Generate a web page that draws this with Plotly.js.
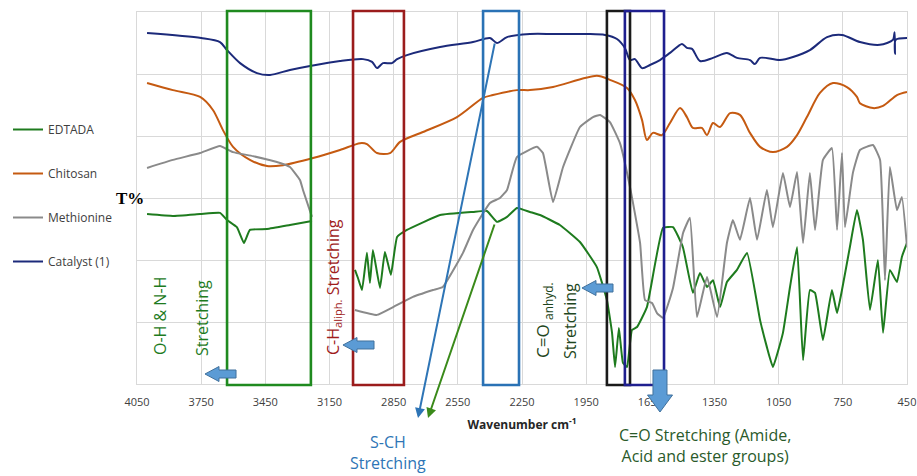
<!DOCTYPE html>
<html><head><meta charset="utf-8">
<script src="https://cdn.plot.ly/plotly-3.0.1.min.js"></script>
<style>body{margin:0;background:#fff}#chart{width:917px;height:476px}</style>
</head><body><div id="chart"></div>
<script>
// ---- data ----
const xTicks = [4050,3750,3450,3150,2850,2550,2250,1950,1650,1350,1050,750,450];
const seriesNames = ['EDTADA','Chitosan','Methionine','Catalyst (1)'];

const edtadaWn = [4003,3882,3755,3662,3629,3583,3550,3522,3442,3335,
  3232,3150,3031,3017,2998,2975,2961,2947,2914,2891,
  2863,2834,2788,2633,2479,2414,2367,2320,2274,2213,
  2166,2073,1979,1900,1853,1829,1815,1797,1778,1759,
  1736,1712,1666,1591,1544,1498,1451,1418,1385,1357,
  1324,1292,1245,1198,1137,1105,1077,1030,997,964,
  936,904,880,843,801,777,754,717,684,656,
  623,586,562,530,497,474,450];
const edtadaT = [54.8,54.2,54.8,55.2,52.9,50.6,45.5,49.7,50.0,51.3,
  52.6,null,36.8,34.2,30.3,42.3,32.6,43.2,31.0,42.6,
  35.2,47.4,49.7,54.5,55.5,55.8,52.3,53.9,56.8,55.5,
  54.5,51.3,45.8,37.7,27.1,16.5,5.5,18.1,6.8,5.5,
  17.4,18.4,24.8,50.3,50.6,44.2,29.4,35.8,31.3,33.5,
  24.8,32.9,36.8,42.3,20.6,11.9,5.5,16.5,31.3,44.2,
  7.7,30.3,29.4,14.2,30.3,22.9,30.3,44.2,56.1,46.5,
  23.9,40.0,16.5,36.8,32.9,41.0,45.5];

const chitosanWn = [4003,3882,3755,3695,3648,3601,3522,3442,3367,3227,
  3101,3007,2975,2928,2867,2820,2713,2554,2432,2386,
  2274,2213,2105,1900,1839,1759,1722,1689,1666,1638,
  1596,1558,1511,1479,1451,1409,1385,1357,1324,1277,
  1231,1184,1137,1077,1011,964,918,857,796,731,
  684,670,609,562,497,450];
const chitosanT = [97.1,94.8,92.6,88.4,81.9,76.5,72.3,70.3,70.6,72.9,
  75.5,77.7,77.4,74.5,74.5,78.1,81.3,86.1,92.3,93.2,
  94.8,94.8,95.8,99.4,98.1,95.5,91.6,85.2,78.7,81.0,
  80.3,84.2,89.0,86.1,82.6,82.6,80.3,84.2,82.9,87.4,
  86.8,81.0,76.5,74.8,76.5,80.3,86.1,93.9,97.1,95.8,
  92.6,90.6,89.0,89.7,93.2,94.2];

const methionineWn = [4003,3882,3755,3662,3601,3508,3381,3335,3288,3274,
  3232,3150,3031,2928,2853,2760,2666,2620,2526,2479,
  2400,2353,2320,2274,2180,2152,2105,2058,1979,1918,
  1885,1839,1792,1745,1698,1675,1642,1619,1591,1544,
  1497,1465,1432,1385,1338,1292,1264,1231,1184,1151,
  1105,1077,1030,997,964,936,904,880,843,801,
  777,754,740,703,670,609,576,553,530,497,
  474,450];
const methionineT = [69.7,72.3,74.5,76.8,74.8,73.5,71.3,70.0,65.8,62.6,
  53.9,null,23.9,22.3,24.8,28.1,30.3,31.3,42.3,49.7,
  58.4,60.0,62.6,73.2,76.5,74.5,58.7,70.0,82.9,86.1,
  86.8,84.5,77.7,63.5,45.5,27.1,26.1,22.9,21.3,31.0,
  48.7,53.6,21.6,34.5,21.6,45.5,52.9,46.5,60.0,46.5,
  62.6,50.6,68.1,57.1,68.4,45.5,68.1,49.7,72.3,76.1,
  49.7,74.5,50.6,68.1,75.5,77.1,72.3,33.5,70.0,56.1,
  60.3,44.2];

const catalystWn = [4003,3750,3662,3629,3568,3489,3428,3335,3241,3101,
  2993,2951,2928,2900,2858,2834,2788,2633,2479,2400,
  2367,2320,2213,2100,1946,1862,1806,1769,1745,1722,
  1689,1652,1605,1558,1502,1479,1455,1418,1357,1292,
  1245,1184,1161,1137,1044,983,904,824,754,670,
  577,516,508,506,503,450];
const catalystT = [113.2,111.6,110.3,107.7,103.5,100.3,99.7,101.3,102.6,104.2,
  104.8,103.9,101.9,103.5,103.5,104.8,106.1,108.7,110.3,111.6,
  110.0,111.9,112.9,112.9,112.9,112.6,111.3,108.4,104.5,104.8,
  101.9,102.9,104.5,106.8,109.7,108.4,108.1,104.2,105.2,106.8,
  105.2,104.5,103.2,105.2,104.5,105.5,107.7,111.9,112.6,110.3,
  109.4,111.0,113.5,106.5,111.0,111.6];

// ---- geometry helpers (pixel -> paper) ----
const L = 137, R = 907, T = 12, B = 384;
const px = x => (x - L) / (R - L);
const py = y => (B - y) / (B - T);

function leftArrow(tx, ty) {
  const hl = 14, hh = 7.5, bh = 4, len = 31;
  const pts = [[tx,ty],[tx+hl,ty-hh],[tx+hl,ty-bh],[tx+len,ty-bh],[tx+len,ty+bh],[tx+hl,ty+bh],[tx+hl,ty+hh]];
  return 'M' + pts.map(p => px(p[0]).toFixed(4) + ',' + py(p[1]).toFixed(4)).join(' L') + ' Z';
}
function downArrow(tx, ty) {
  const pts = [[tx,ty],[tx-12.5,ty-17],[tx-7,ty-17],[tx-7,ty-42],[tx+7,ty-42],[tx+7,ty-17],[tx+12.5,ty-17]];
  return 'M' + pts.map(p => px(p[0]).toFixed(4) + ',' + py(p[1]).toFixed(4)).join(' L') + ' Z';
}
function box(x0, x1, color, w) {
  return {type:'rect', xref:'x', yref:'paper', x0:x0, x1:x1, y0:py(385), y1:py(11),
          line:{color:color, width:w||2.6}, fillcolor:'rgba(0,0,0,0)'};
}
function label(x, y, text, color, angle, size) {
  return {xref:'paper', yref:'paper', x:px(x), y:py(y), xanchor:'center', yanchor:'middle',
          textangle:angle||0, showarrow:false, text:text, font:{size:size||16, color:color}};
}
const arrowStyle = {fillcolor:'#5b9bd5', line:{color:'#41719c', width:1}, xref:'paper', yref:'paper', type:'path'};

const colors = ['#1e7b1e','#c55a11','#8a8a8a','#1c2a7a'];
const xs = [edtadaWn, chitosanWn, methionineWn, catalystWn];
const ys = [edtadaT, chitosanT, methionineT, catalystT];
const smooth = [0.35, 0.8, 0.35, 0.8];

const traces = seriesNames.map((n, i) => ({
  type:'scatter', mode:'lines', name:n, x:xs[i], y:ys[i],
  legendgroup:'g'+i, connectgaps:false,
  line:{color:colors[i], width:2, shape:'spline', smoothing:smooth[i]}
}));

const layout = {
  width:917, height:476,
  margin:{l:L, r:917-R, t:T, b:476-B, autoexpand:false},
  paper_bgcolor:'#fff', plot_bgcolor:'#fff',
  font:{family:'Open Sans, sans-serif', color:'#404040'},
  showlegend:true,
  legend:{x:px(8), xanchor:'left', y:py(115), yanchor:'top', traceorder:'grouped',
          tracegroupgap:25, font:{size:12, color:'#404040'}, bgcolor:'rgba(0,0,0,0)'},
  xaxis:{range:[4050,450], tickvals:xTicks, ticktext:xTicks.map(String),
         tickfont:{size:11, color:'#404040'}, ticks:'', ticklabelstandoff:8,
         showgrid:true, gridcolor:'#d9d9d9', gridwidth:1, zeroline:false,
         showline:true, linecolor:'#d9d9d9', mirror:true,
         title:{text:'<b>Wavenumber cm<sup>-1</sup></b>', font:{size:12, color:'#262626'}, standoff:12}},
  yaxis:{range:[0,120], dtick:20, showticklabels:false, ticks:'',
         showgrid:true, gridcolor:'#d9d9d9', gridwidth:1, zeroline:false,
         showline:true, linecolor:'#d9d9d9', mirror:true},
  shapes:[
    box(3629, 3237, '#1f8a1f'),
    box(3040, 2802, '#9b1c1c'),
    box(2432, 2264, '#2a72b5'),
    box(1853, 1745, '#1a1a1a'),
    box(1769, 1586, '#1f1f8f'),
    Object.assign({}, arrowStyle, {path:leftArrow(205, 374)}),
    Object.assign({}, arrowStyle, {path:leftArrow(343, 345)}),
    Object.assign({}, arrowStyle, {path:leftArrow(582, 288)}),
    Object.assign({}, arrowStyle, {path:downArrow(660, 412)})
  ],
  annotations:[
    {xref:'paper', yref:'paper', x:px(146), y:py(198), xanchor:'right', yanchor:'middle', showarrow:false,
     text:'<b>T%</b>', font:{family:'Liberation Serif, serif', size:17, color:'#000'}},
    label(160, 316, 'O-H &amp; N-H', '#1e7b1e', -90),
    label(202, 318, 'Stretching', '#1e7b1e', -90),
    label(333, 287, 'C-H<sub>aliph.</sub> Stretching', '#a01c1c', -90),
    label(543, 320, 'C=O <sub>anhyd.</sub>', '#1e4620', -90, 17),
    label(570, 321, 'Stretching', '#1e4620', -90),
    label(388, 452, 'S-CH<br>Stretching', '#2e75b6', 0),
    label(705, 445, 'C=O Stretching (Amide,<br>Acid and ester groups)', '#2a5a2a', 0),
    {xref:'paper', yref:'paper', x:px(418), y:py(418), text:'', showarrow:true,
     ax:495-418, ay:42-418, arrowhead:2, arrowsize:1, arrowwidth:2, arrowcolor:'#2e75b6'},
    {xref:'paper', yref:'paper', x:px(428), y:py(418), text:'', showarrow:true,
     ax:495-428, ay:223-418, arrowhead:2, arrowsize:1, arrowwidth:2, arrowcolor:'#3a8a1a'}
  ]
};
Plotly.newPlot('chart', traces, layout, {displayModeBar:false, staticPlot:true});
</script></body></html>
